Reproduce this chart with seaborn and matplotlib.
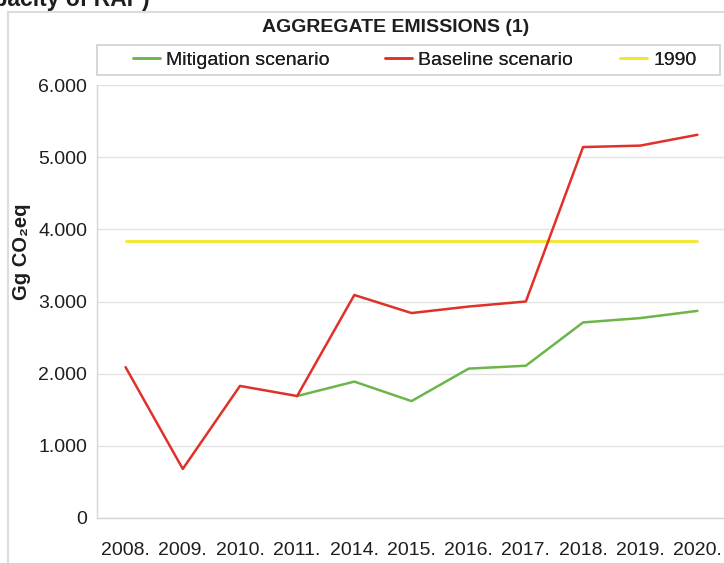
import numpy as np
import pandas as pd
import matplotlib
matplotlib.use("Agg")
import matplotlib.pyplot as plt
import seaborn as sns
from matplotlib.patches import Rectangle
from matplotlib.lines import Line2D

# ---- data ----
years = ["2008.", "2009.", "2010.", "2011.", "2014.", "2015.", "2016.",
         "2017.", "2018.", "2019.", "2020."]
baseline = [2090, 680, 1830, 1690, 3090, 2840, 2930, 3000, 5140, 5160, 5310]
mitigation = [np.nan, np.nan, np.nan, 1690, 1890, 1620, 2070, 2110, 2710, 2770, 2870]
level_1990 = 3840
yticks = [0, 1000, 2000, 3000, 4000, 5000, 6000]
ytick_labels = ["0", "1.000", "2.000", "3.000", "4.000", "5.000", "6.000"]
series_names = ["Mitigation scenario", "Baseline scenario", "1990"]
colors = {"Mitigation scenario": "#6cb54a", "Baseline scenario": "#e0302a", "1990": "#f2e627"}

sns.set_style("white")
plt.rcParams["font.family"] = ["Liberation Sans", "DejaVu Sans"]

W, H = 724, 563
TXT = "#1e1e1e"
fig = plt.figure(figsize=(W / 100, H / 100), dpi=100)
ax = fig.add_axes([97 / W, 45 / H, 629 / W, 433 / H])

pos = list(range(len(years)))
df = pd.DataFrame({
    "pos": pos * 2,
    "value": mitigation + baseline,
    "series": ["Mitigation scenario"] * len(years) + ["Baseline scenario"] * len(years),
})
df = df.dropna()
df_1990 = pd.DataFrame({"pos": [pos[0], pos[-1]], "value": [level_1990, level_1990]})

ax.set_axisbelow(True)
ax.yaxis.grid(True, color="#e2e2e2", lw=1.0)
sns.lineplot(data=df_1990, x="pos", y="value", color=colors["1990"], lw=2.0, ax=ax)
sns.lineplot(data=df[df.series == "Mitigation scenario"], x="pos", y="value",
             color=colors["Mitigation scenario"], lw=1.8, ax=ax)
sns.lineplot(data=df[df.series == "Baseline scenario"], x="pos", y="value",
             color=colors["Baseline scenario"], lw=1.8, ax=ax)

ax.set_xlim(-0.5, len(years) - 0.5)
ax.set_ylim(0, 6000)
ax.set_xlabel("")
ax.set_ylabel("")
ax.set_xticks(pos)
ax.set_xticklabels(years, fontsize=14, color=TXT)
ax.set_xticks(np.arange(-0.5, len(years), 1.0), minor=True)
ax.tick_params(axis="x", which="major", length=0, pad=17)
ax.tick_params(axis="x", which="minor", length=4.5, width=1, color="#cfcfcf", direction="out")
ax.set_yticks(yticks)
ax.set_yticklabels(ytick_labels, fontsize=14, color=TXT)
ax.tick_params(axis="y", length=4, width=1, color="#cfcfcf", pad=3)
for s in ["top", "right"]:
    ax.spines[s].set_visible(False)
for s in ["left", "bottom"]:
    ax.spines[s].set_color("#d6d6d6")
    ax.spines[s].set_linewidth(1.0)

# titles / labels
fig.text(396 / W, 1 - 27 / H, "AGGREGATE EMISSIONS (1)", ha="center", va="center",
         fontsize=14, fontweight="bold", color=TXT)
fig.text(22 / W, 1 - 252 / H, "Gg CO\u2082eq", rotation=90, ha="center", va="center",
         fontsize=14.5, fontweight="bold", color=TXT)
fig.text(150 / W, 1 - 6 / H, "capacity of RAP)", ha="right", va="baseline",
         fontsize=16.5, fontweight="bold", color=TXT)

# outer chart frame
fig.patches.append(Rectangle((8 / W, -0.2), 1.5, 1.2 - 12 / H, transform=fig.transFigure,
                             fill=False, edgecolor="#dcdcdc", lw=1.5))
# legend frame
fig.patches.append(Rectangle((97 / W, 1 - 75 / H), 623 / W, 30 / H, transform=fig.transFigure,
                             fill=False, edgecolor="#cfcfcf", lw=1.2))
legend_x = [133, 385, 620]
for name, lx in zip(series_names, legend_x):
    h = Line2D([], [], color=colors[name], lw=1.8)
    leg = fig.legend([h], [name], loc="center left", bbox_to_anchor=(lx / W, 1 - 60 / H),
                     frameon=False, fontsize=14, handlelength=1.4, handletextpad=0.3,
                     borderpad=0, borderaxespad=0, labelcolor=TXT)
    fig.add_artist(leg)

fig.savefig("out.png", dpi=100)
